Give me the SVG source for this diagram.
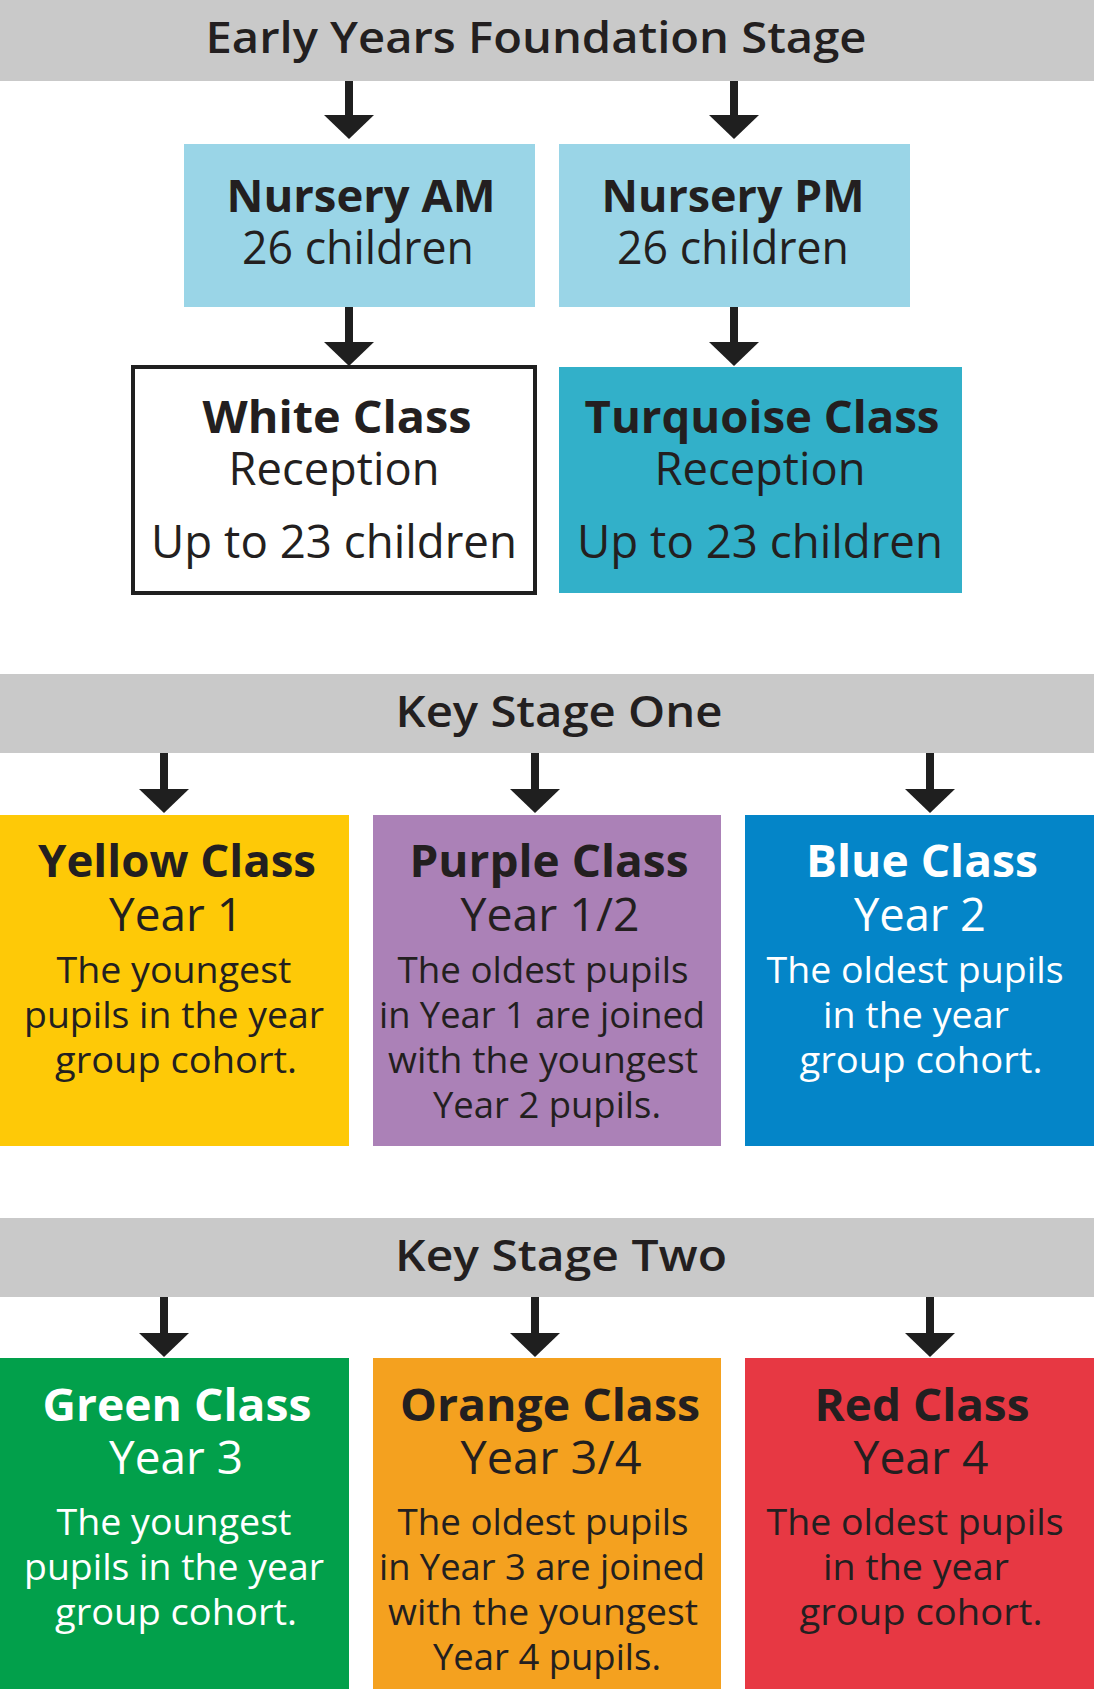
<svg xmlns="http://www.w3.org/2000/svg" width="1094" height="1689" viewBox="0 0 1094 1689">
<style>
text{font-family:"Open Sans","Noto Sans","Liberation Sans",sans-serif;text-anchor:middle;fill:#231f20}
.b{font-weight:700}
.hd{font-size:43px;font-weight:600}
.t{font-size:45px;font-weight:700}
.y{font-size:45px}
.s{font-size:37px}
.w{fill:#ffffff}
.band{fill:#c9c9c9}
.conn line{stroke:#1f1f1f;stroke-width:8;marker-end:url(#ah)}
</style>
<defs>
<marker id="ah" markerUnits="userSpaceOnUse" viewBox="0 -26 26 52" markerWidth="26" markerHeight="52" refX="0" refY="0" orient="auto">
<path d="M0,-25 L24,0 L0,25 Z" fill="#1f1f1f"/>
</marker>
</defs>
<rect width="1094" height="1689" fill="#ffffff"/>

<g id="eyfs">
<rect class="band" x="0" y="0" width="1094" height="81"/>
<text class="hd" x="536" y="53" textLength="661" lengthAdjust="spacingAndGlyphs">Early Years Foundation Stage</text>
</g>

<g id="nursery-am">
<rect x="184" y="144" width="351" height="163" fill="#9ad5e7"/>
<text class="t" x="361" y="212" textLength="269" lengthAdjust="spacingAndGlyphs">Nursery AM</text>
<text class="y" x="358" y="264" textLength="232" lengthAdjust="spacingAndGlyphs">26 children</text>
</g>
<g id="nursery-pm">
<rect x="559" y="144" width="351" height="163" fill="#9ad5e7"/>
<text class="t" x="733" y="212" textLength="263" lengthAdjust="spacingAndGlyphs">Nursery PM</text>
<text class="y" x="733" y="264" textLength="232" lengthAdjust="spacingAndGlyphs">26 children</text>
</g>

<g id="white-class">
<rect x="133" y="367" width="402" height="226" fill="#ffffff" stroke="#1f1f1f" stroke-width="4"/>
<text class="t" x="337" y="433" textLength="269" lengthAdjust="spacingAndGlyphs">White Class</text>
<text class="y" x="334" y="485" textLength="211" lengthAdjust="spacingAndGlyphs">Reception</text>
<text class="y" x="334" y="558" textLength="366" lengthAdjust="spacingAndGlyphs">Up to 23 children</text>
</g>
<g id="turquoise-class">
<rect x="559" y="367" width="403" height="226" fill="#32b0c9"/>
<text class="t" x="762" y="433" textLength="355" lengthAdjust="spacingAndGlyphs">Turquoise Class</text>
<text class="y" x="760" y="485" textLength="211" lengthAdjust="spacingAndGlyphs">Reception</text>
<text class="y" x="760" y="558" textLength="366" lengthAdjust="spacingAndGlyphs">Up to 23 children</text>
</g>

<g id="ks1">
<rect class="band" x="0" y="674" width="1094" height="79"/>
<text class="hd" x="559" y="727" textLength="327" lengthAdjust="spacingAndGlyphs">Key Stage One</text>
</g>

<g id="yellow-class">
<rect x="0" y="815" width="349" height="331" fill="#fec907"/>
<text class="t" x="177" y="877" textLength="278" lengthAdjust="spacingAndGlyphs">Yellow Class</text>
<text class="y" x="176" y="931" textLength="134" lengthAdjust="spacingAndGlyphs">Year 1</text>
<text class="s" x="174" y="983" textLength="235" lengthAdjust="spacingAndGlyphs">The youngest</text>
<text class="s" x="174" y="1028" textLength="300" lengthAdjust="spacingAndGlyphs">pupils in the year</text>
<text class="s" x="176" y="1073" textLength="242" lengthAdjust="spacingAndGlyphs">group cohort.</text>
</g>
<g id="purple-class">
<rect x="373" y="815" width="348" height="331" fill="#ab81b7"/>
<text class="t" x="549" y="877" textLength="279" lengthAdjust="spacingAndGlyphs">Purple Class</text>
<text class="y" x="550" y="931" textLength="179" lengthAdjust="spacingAndGlyphs">Year 1/2</text>
<text class="s" x="543" y="983" textLength="291" lengthAdjust="spacingAndGlyphs">The oldest pupils</text>
<text class="s" x="542" y="1028" textLength="326" lengthAdjust="spacingAndGlyphs">in Year 1 are joined</text>
<text class="s" x="543" y="1073" textLength="310" lengthAdjust="spacingAndGlyphs">with the youngest</text>
<text class="s" x="547" y="1118" textLength="228" lengthAdjust="spacingAndGlyphs">Year 2 pupils.</text>
</g>
<g id="blue-class">
<rect x="745" y="815" width="349" height="331" fill="#0485c8"/>
<text class="t w" x="922" y="877" textLength="232" lengthAdjust="spacingAndGlyphs">Blue Class</text>
<text class="y w" x="920" y="931" textLength="132" lengthAdjust="spacingAndGlyphs">Year 2</text>
<text class="s w" x="915" y="983" textLength="297" lengthAdjust="spacingAndGlyphs">The oldest pupils</text>
<text class="s w" x="916" y="1028" textLength="186" lengthAdjust="spacingAndGlyphs">in the year</text>
<text class="s w" x="921" y="1073" textLength="243" lengthAdjust="spacingAndGlyphs">group cohort.</text>
</g>

<g id="ks2">
<rect class="band" x="0" y="1218" width="1094" height="79"/>
<text class="hd" x="561" y="1271" textLength="332" lengthAdjust="spacingAndGlyphs">Key Stage Two</text>
</g>

<g id="green-class">
<rect x="0" y="1358" width="349" height="331" fill="#02a04b"/>
<text class="t w" x="177" y="1421" textLength="269" lengthAdjust="spacingAndGlyphs">Green Class</text>
<text class="y w" x="176" y="1474" textLength="134" lengthAdjust="spacingAndGlyphs">Year 3</text>
<text class="s w" x="174" y="1535" textLength="235" lengthAdjust="spacingAndGlyphs">The youngest</text>
<text class="s w" x="174" y="1580" textLength="300" lengthAdjust="spacingAndGlyphs">pupils in the year</text>
<text class="s w" x="176" y="1625" textLength="242" lengthAdjust="spacingAndGlyphs">group cohort.</text>
</g>
<g id="orange-class">
<rect x="373" y="1358" width="348" height="331" fill="#f4a11f"/>
<text class="t" x="550" y="1421" textLength="300" lengthAdjust="spacingAndGlyphs">Orange Class</text>
<text class="y" x="551" y="1474" textLength="181" lengthAdjust="spacingAndGlyphs">Year 3/4</text>
<text class="s" x="543" y="1535" textLength="291" lengthAdjust="spacingAndGlyphs">The oldest pupils</text>
<text class="s" x="542" y="1580" textLength="326" lengthAdjust="spacingAndGlyphs">in Year 3 are joined</text>
<text class="s" x="543" y="1625" textLength="310" lengthAdjust="spacingAndGlyphs">with the youngest</text>
<text class="s" x="547" y="1670" textLength="228" lengthAdjust="spacingAndGlyphs">Year 4 pupils.</text>
</g>
<g id="red-class">
<rect x="745" y="1358" width="349" height="331" fill="#e73843"/>
<text class="t" x="922" y="1421" textLength="215" lengthAdjust="spacingAndGlyphs">Red Class</text>
<text class="y" x="921" y="1474" textLength="135" lengthAdjust="spacingAndGlyphs">Year 4</text>
<text class="s" x="915" y="1535" textLength="297" lengthAdjust="spacingAndGlyphs">The oldest pupils</text>
<text class="s" x="916" y="1580" textLength="186" lengthAdjust="spacingAndGlyphs">in the year</text>
<text class="s" x="921" y="1625" textLength="243" lengthAdjust="spacingAndGlyphs">group cohort.</text>
</g>

<g id="connectors" class="conn">
<line x1="349" y1="81" x2="349" y2="115"/>
<line x1="734" y1="81" x2="734" y2="115"/>
<line x1="349" y1="307" x2="349" y2="342"/>
<line x1="734" y1="307" x2="734" y2="342"/>
<line x1="164" y1="753" x2="164" y2="789"/>
<line x1="535" y1="753" x2="535" y2="789"/>
<line x1="930" y1="753" x2="930" y2="789"/>
<line x1="164" y1="1297" x2="164" y2="1333"/>
<line x1="535" y1="1297" x2="535" y2="1333"/>
<line x1="930" y1="1297" x2="930" y2="1333"/>
</g>
</svg>
